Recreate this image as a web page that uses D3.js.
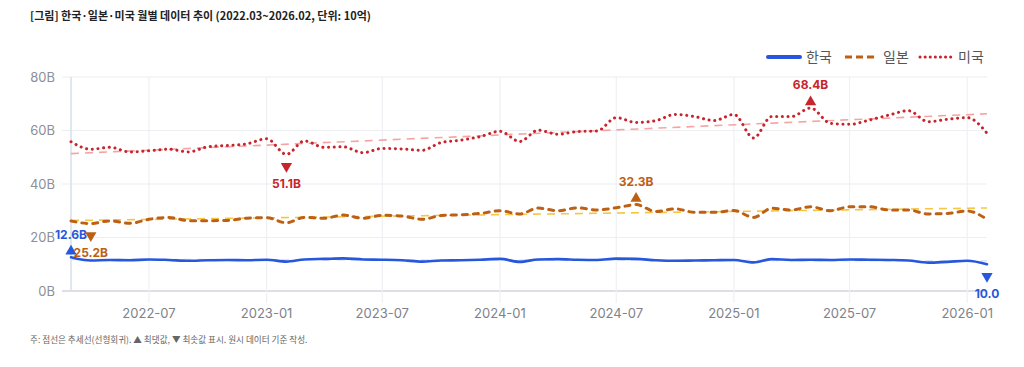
<!DOCTYPE html>
<html><head><meta charset="utf-8">
<script src="https://cdn.jsdelivr.net/npm/d3@7"></script>
<style>
body{margin:0;background:#fff;}
svg{display:block;font-family:"Noto Sans CJK KR","Noto Sans",sans-serif;}
</style></head>
<body><svg id="c" width="1024" height="367"></svg>
<script>
const startMonth = "2022-03";
const endMonth = "2026-02";
const seriesNames = ["한국","일본","미국"];
const korea = [12.6,11.4,11.6,11.5,11.8,11.6,11.3,11.5,11.6,11.5,11.7,11.0,11.8,12.0,12.2,11.8,11.7,11.5,11.0,11.4,11.5,11.7,12.0,10.9,11.8,11.9,11.7,11.6,12.1,12.0,11.5,11.3,11.4,11.5,11.6,10.7,11.9,11.6,11.7,11.6,11.8,11.7,11.6,11.4,10.6,10.9,11.3,10.0];
const japan = [26.2,25.2,26.2,25.3,26.8,27.5,26.3,26.3,26.4,27.2,27.4,25.5,27.5,27.2,28.4,27.2,28.3,28.0,26.8,28.2,28.5,29.0,30.0,28.8,31.0,30.0,31.1,30.3,31.1,32.3,29.7,30.7,29.4,29.4,30.1,27.5,30.9,30.3,31.5,30.0,31.5,31.5,30.3,30.3,28.8,29.0,29.9,26.8];
const usa = [55.8,53.0,53.7,52.0,52.4,53.0,52.0,53.9,54.4,55.0,56.9,51.1,56.1,53.7,53.9,51.7,53.3,53.1,52.6,55.5,56.4,57.7,59.7,55.9,60.1,58.6,59.6,59.8,64.8,63.0,63.7,66.0,65.2,63.7,66.0,57.2,65.2,65.2,68.4,62.7,62.3,63.9,65.8,67.4,63.3,64.2,64.8,59.0];
const yTicks = [0,20,40,60,80];
const xTickLabels = ["2022-07","2023-01","2023-07","2024-01","2024-07","2025-01","2025-07","2026-01"];
const title = "[그림] 한국·일본·미국 월별 데이터 추이 (2022.03~2026.02, 단위: 10억)";
const note = "주: 점선은 추세선(선형회귀). ▲ 최댓값, ▼ 최솟값 표시. 원시 데이터 기준 작성.";
// extremes labels: [series index, "max"/"min", label]
const extremeLabels = [[0,"max","12.6B"],[0,"min","10.0"],[1,"max","32.3B"],[1,"min","25.2B"],[2,"max","68.4B"],[2,"min","51.1B"]];

const colors = ["#2757dc","#bd6014","#c8242c"];
const trendColors = ["#dbe4fb","#f6c643","#f5a3a3"];

const parse = d3.timeParse("%Y-%m");
const months = d3.timeMonth.range(parse(startMonth), d3.timeMonth.offset(parse(endMonth),1));
const data = [korea, japan, usa];

const svg = d3.select("#c");
const W = 1024, H = 367;
const m = {l:71, r:37, t:77, b:76};
const x = d3.scaleTime().domain([months[0], months[months.length-1]]).range([m.l, W-m.r]);
const y = d3.scaleLinear().domain([0,80]).range([H-m.b, m.t]);

// title
svg.append("text").attr("x",30).attr("y",20).attr("font-size",11).attr("font-weight",600)
  .attr("fill","#222").text(title);
// note
svg.append("text").attr("x",30).attr("y",343).attr("font-size",8.6)
  .attr("fill","#666").text(note);

// y grid
const gy = svg.append("g");
yTicks.forEach(t=>{
  gy.append("line").attr("x1",62).attr("x2",W-m.r).attr("y1",y(t)).attr("y2",y(t))
    .attr("stroke", t===0?"#d3d5dc":"#eceef2").attr("stroke-width", t===0?1.6:1.2);
  gy.append("text").attr("x",55).attr("y",y(t)).attr("dy","0.36em").attr("text-anchor","end")
    .attr("font-size",13).attr("fill","#8b9099").attr("font-family","Inter, 'Noto Sans', sans-serif").text(t+"B");
});
// x grid & labels
const xParsed = xTickLabels.map(parse);
const gx = svg.append("g");
xParsed.forEach((d,i)=>{
  gx.append("line").attr("x1",x(d)).attr("x2",x(d)).attr("y1",m.t).attr("y2",H-m.b+12)
    .attr("stroke","#eef0f4").attr("stroke-width",1.2);
  gx.append("text").attr("x",x(d)).attr("y",H-m.b+27).attr("text-anchor","middle")
    .attr("font-size",13).attr("fill","#7d828b").attr("font-family","Inter, 'Noto Sans', sans-serif").text(xTickLabels[i]);
});
// left axis line
svg.append("line").attr("x1",m.l).attr("x2",m.l).attr("y1",m.t).attr("y2",H-m.b)
  .attr("stroke","#d9dee8").attr("stroke-width",1.5);

// trend lines
function regress(vals){
  const n=vals.length, xs=d3.range(n);
  const mx=d3.mean(xs), my=d3.mean(vals);
  let sxy=0,sxx=0; xs.forEach(i=>{sxy+=(i-mx)*(vals[i]-my); sxx+=(i-mx)*(i-mx);});
  const b=sxy/sxx, a=my-b*mx;
  return [a, a+b*(n-1)];
}
data.forEach((vals,si)=>{
  const [a0,a1]=regress(vals);
  svg.append("line").attr("x1",x(months[0])).attr("x2",x(months[months.length-1]))
    .attr("y1",y(a0)).attr("y2",y(a1)).attr("stroke",trendColors[si]).attr("stroke-width",1.6)
    .attr("stroke-dasharray","8 6");
});

const line = d3.line().x((d,i)=>x(months[i])).y(d=>y(d)).curve(d3.curveMonotoneX);
const styles = [
  {w:2.6, dash:null, cap:"round"},
  {w:3, dash:"5 6", cap:"round"},
  {w:3, dash:"0.1 5.6", cap:"round"}
];
[0,1,2].forEach(si=>{
  svg.append("path").datum(data[si]).attr("d",line).attr("fill","none")
    .attr("stroke",colors[si]).attr("stroke-width",styles[si].w)
    .attr("stroke-linecap",styles[si].cap).attr("stroke-linejoin","round")
    .attr("stroke-dasharray",styles[si].dash);
});

// extremes
const tri = d3.symbol().type(d3.symbolTriangle).size(55);
extremeLabels.forEach(([si,kind,lab])=>{
  const vals=data[si];
  const v = kind==="max"?d3.max(vals):d3.min(vals);
  const idx = vals.indexOf(v);
  const px=x(months[idx]), py=y(v);
  const ty = kind==="max"? py-6 : py+12;
  svg.append("path").attr("d",tri).attr("fill",colors[si])
    .attr("transform",`translate(${px},${ty}) rotate(${kind==="max"?0:180})`);
  const ly = kind==="max"? ty-17 : ty+17;
  svg.append("text").attr("x",px).attr("y",ly).attr("dy","0.36em").attr("text-anchor","middle")
    .attr("font-size",12).attr("font-weight",700).attr("fill",colors[si])
    .attr("font-family","Inter, 'Noto Sans', sans-serif").text(lab);
});

// legend
const lg = svg.append("g");
const legX = [768, 845, 920];
seriesNames.forEach((n,si)=>{
  const lx=legX[si], ly=57;
  lg.append("line").attr("x1",lx).attr("x2",lx+32).attr("y1",ly).attr("y2",ly)
    .attr("stroke",colors[si]).attr("stroke-width", si===0?4:3)
    .attr("stroke-linecap", si===0?"round":(si===1?"butt":"round"))
    .attr("stroke-dasharray", si===0?null:(si===1?"7 4":"0.1 5"));
  lg.append("text").attr("x",lx+38).attr("y",ly).attr("dy","0.36em").attr("font-size",14)
    .attr("fill","#555").text(n);
});
</script></body></html>
